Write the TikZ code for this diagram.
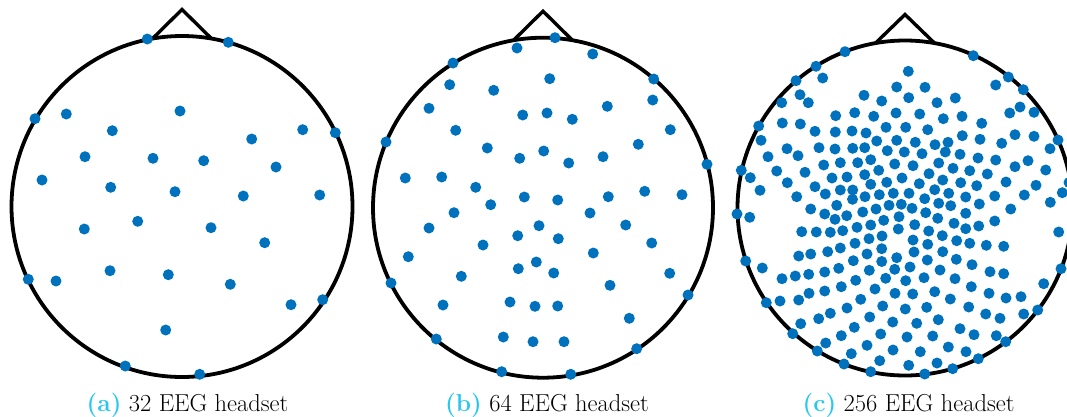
\documentclass[tikz,border=0pt]{standalone}
\usepackage{xcolor}
\definecolor{dotblue}{RGB}{0,114,189}
\definecolor{capcyan}{RGB}{40,200,236}
\begin{document}
\begin{tikzpicture}[x=1pt,y=-1pt,
  headline/.style={line width=3.8pt,black},
  noseline/.style={line width=3.4pt,black,line join=miter},
  electrode/.style={fill=dotblue},
  caption/.style={anchor=base,inner sep=0pt,font=\fontsize{24.5}{28}\selectfont}]
\useasboundingbox (0,0) rectangle (1067,416);

% ---------- head (a) ----------
\coordinate (ca) at (182,206.5);
\coordinate (naL) at (152.5,38.6);
\coordinate (naT) at (182,9.5);
\coordinate (naR) at (211.5,38.6);
\draw[noseline] (naL) -- (naT) -- (naR);
\draw[headline] (ca) circle[radius=170.5pt];
\foreach \x/\y in {147.3/39, 228.3/42.3, 35/118.7, 66.3/114, 180/111, 112.3/130.7, 302.7/129.7, 335.3/132.7,
  251.7/139, 85/156.7, 153/158.3, 203.7/160.7, 276/167, 42/180, 110.7/187.3, 175/191.7, 243.3/196, 319.7/195,
  137.7/221.3, 84.3/229, 211/227.7, 264.7/242.7, 28.3/279.3, 56/281, 110/270.7, 168.3/274.7, 230.3/284.3,
  291/304.7, 322.7/299.7, 165.7/330, 125.3/366, 199.7/374.3}
  \fill[electrode] (\x,\y) circle[radius=5.5pt];
\node[caption] (capa) at (187.5,411) {\textcolor{capcyan}{\bfseries(a)} 32 EEG headset};

% ---------- head (b) ----------
\coordinate (cb) at (543,207.7);
\coordinate (nbL) at (513.5,40.3);
\coordinate (nbT) at (543,11.2);
\coordinate (nbR) at (572.5,40.3);
\draw[noseline] (nbL) -- (nbT) -- (nbR);
\draw[headline] (cb) circle[radius=170pt];
\foreach \x/\y in {555/37.7, 517/48, 592.7/54, 453/63, 549.7/78.7, 653.7/79, 449.7/84.7, 493.7/90.3,
  652.7/100, 429/108.3, 607.3/106.3, 522.7/115, 547/113, 572.3/119.3, 455.7/130.3, 670.3/129.7,
  386/142, 638.3/144.3, 487.3/148, 543.7/151, 519.7/158.3, 603/156.7, 568.7/163, 707/164.3,
  405.3/178, 441.7/177, 475.7/187.3, 644.7/191.3, 682/194.7, 524.3/197, 557.7/200, 608.3/196.7,
  490.7/204.7, 454/212.7, 590/213, 429/228, 539/225.7, 625.7/225, 517.7/235.7, 558.3/238.7,
  483/245, 651.7/243, 408.3/256.7, 593.3/253, 536.3/262, 518.3/268.7, 553.7/273, 461.3/276.3,
  669.7/273.3, 391/283, 610/285.3, 688/295, 443/305, 510/302, 535/306.3, 557.7/306,
  629.3/318.3, 436.3/339, 503.3/337, 533/341.7, 564/341.7, 636.7/348.7, 501.7/371.7, 570.7/374.3}
  \fill[electrode] (\x,\y) circle[radius=5.5pt];
\node[caption] (capb) at (547,411) {\textcolor{capcyan}{\bfseries(b)} 64 EEG headset};

% ---------- head (c) ----------
\coordinate (cc) at (905,208);
\coordinate (ncL) at (875.5,43.1);
\coordinate (ncT) at (905,14.5);
\coordinate (ncR) at (934.5,43.1);
\draw[noseline] (ncL) -- (ncT) -- (ncR);
\draw[headline] (cc) circle[radius=167.5pt];
\foreach \x/\y in {845.0/51.7, 973.3/55.7, 816.0/66.3, 908.3/71.3, 796.0/80.7, 822.7/78.0, 1008.3/77.0,
  995.7/85.0, 896.7/87.0, 925.0/87.3, 1023.3/89.7, 800.0/94.7, 864.0/95.3, 908.7/97.7, 955.3/98.0,
  881.7/101.0, 937.0/102.7, 781.7/102.7, 808.3/102.7, 1020.0/107.0, 1009.7/113.0, 1034.0/112.3,
  854.7/112.7, 896.0/113.0, 919.7/114.0, 835.7/115.7, 873.7/116.3, 962.0/116.3, 943.3/118.7,
  782.3/123.0, 800.3/124.0, 981.7/123.3, 758.7/126.0, 886.0/127.3, 905.7/127.3, 927.7/129.7,
  852.0/131.0, 815.0/131.3, 835.3/132.0, 866.0/133.0, 1015.0/134.7, 962.3/135.7, 1034.0/136.3,
  980.0/139.3, 1058.0/140.0, 761.0/140.3, 896.7/140.3, 876.7/141.0, 915.3/142.3, 948.0/142.3,
  1001.7/143.3, 935.0/144.7, 819.0/147.7, 864.7/147.7, 852.7/148.3, 787.0/148.7, 1050.0/148.7,
  835.0/149.0, 887.3/150.7, 904.3/152.0, 945.3/152.0, 922.0/153.7, 960.0/154.3, 798.0/155.7,
  768.0/156.7, 978.0/158.0, 870.7/159.7, 995.7/160.0, 1028.0/160.7, 840.3/162.7, 857.7/162.7,
  938.7/163.0, 894.7/164.0, 823.7/165.0, 913.0/165.7, 1015.0/166.7, 953.0/168.3, 1045.7/170.0,
  741.3/170.3, 878.7/170.3, 969.7/170.7, 776.7/171.0, 805.0/172.3, 929.0/173.7, 987.3/174.0,
  864.7/174.7, 847.0/177.0, 750.3/177.7, 832.0/178.0, 902.0/178.0, 942.7/180.0, 886.7/182.3,
  1006.0/182.0, 787.3/182.7, 960.7/182.7, 919.3/183.7, 870.7/184.3, 1036.0/185.3, 976.7/185.7,
  815.0/186.7, 934.7/189.7, 840.3/190.0, 852.7/190.0, 760.0/190.3, 1062.3/192.7, 893.3/193.3,
  909.0/193.3, 948.7/193.3, 825.3/194.0, 879.3/194.7, 1024.3/195.0, 994.7/196.0, 796.7/196.7,
  865.0/196.7, 965.7/197.0, 852.5/199.3, 924.7/198.7, 1069.0/182.5,
  737.0/214.0, 749.7/217.3, 810.7/209.0, 824.7/214.0, 836.7/205.3, 835.0/219.3, 846.7/215.7,
  862.7/212.0, 876.0/209.0, 889.0/205.3, 901.3/204.3, 912.0/208.3, 925.7/212.7, 938.7/203.3,
  950.7/205.7, 965.7/213.3, 979.3/204.0, 1010.7/209.0, 1050.3/202.3, 883.7/220.3, 899.0/216.7,
  937.7/218.3, 954.0/223.3, 965.7/228.7, 978.7/226.0, 994.7/221.0, 801.7/231.7, 816.3/232.0,
  830.3/232.3, 842.7/230.7, 857.0/227.3, 870.7/225.0, 882.0/236.0, 898.3/229.0, 914.7/224.7,
  928.7/231.0, 942.3/235.7, 956.7/240.7, 969.7/243.3, 986.3/245.3, 1003.7/246.3, 1058.7/232.0,
  869.0/238.7, 855.0/243.3, 840.3/248.0, 827.7/251.7, 810.7/254.0, 798.7/256.0, 881.7/248.7,
  867.0/254.0, 896.7/257.7, 913.0/240.0, 914.0/252.0, 927.7/244.3, 942.7/251.7, 927.3/260.0,
  956.3/259.3, 972.0/264.7, 745.7/261.0, 762.3/268.0, 853.3/260.7, 881.7/261.5, 782.0/278.7,
  795.3/276.0, 808.7/274.3, 824.7/272.0, 838.7/268.3, 855.7/280.3, 869.3/270.3, 885.7/278.3,
  894.7/269.3, 905.7/280.7, 910.0/267.0, 924.0/277.7, 940.0/270.0, 955.0/278.7, 990.0/271.7,
  1003.7/273.7, 1061.0/268.7, 1043.7/283.7, 766.3/302.7, 780.0/301.0, 798.7/300.0, 809.0/293.3,
  824.7/291.0, 841.3/286.7, 860.7/299.3, 875.0/289.0, 895.0/293.3, 912.7/294.0, 934.7/291.7,
  950.3/299.0, 971.3/286.7, 989.0/293.3, 1006.0/298.0, 1021.0/296.7, 882.7/306.0, 905.3/309.0,
  926.7/307.3, 968.7/307.0, 985.7/314.0, 1000.0/318.3, 1023.7/314.0, 1037.7/310.0, 800.7/323.7,
  818.7/318.7, 830.3/313.3, 847.0/308.0, 869.7/317.0, 892.7/322.0, 916.7/323.3, 938.3/319.7,
  960.0/328.7, 974.0/334.7, 996.3/335.7, 1005.7/341.7, 792.7/333.7, 825.7/343.0, 841.3/335.7,
  854.3/327.3, 880.7/334.0, 907.0/337.0, 932.7/336.0, 817.3/351.0, 851.3/353.7, 867.0/345.3,
  893.0/350.0, 920.3/351.7, 948.3/347.0, 966.0/351.7, 978.3/358.7, 844.0/364.0, 879.7/360.7,
  908.7/365.3, 937.0/363.0, 952.7/368.7, 870.7/371.7, 924.7/374.0}
  \fill[electrode] (\x,\y) circle[radius=5.5pt];
\node[caption] (capc) at (908.5,411) {\textcolor{capcyan}{\bfseries(c)} 256 EEG headset};
\end{tikzpicture}
\end{document}
